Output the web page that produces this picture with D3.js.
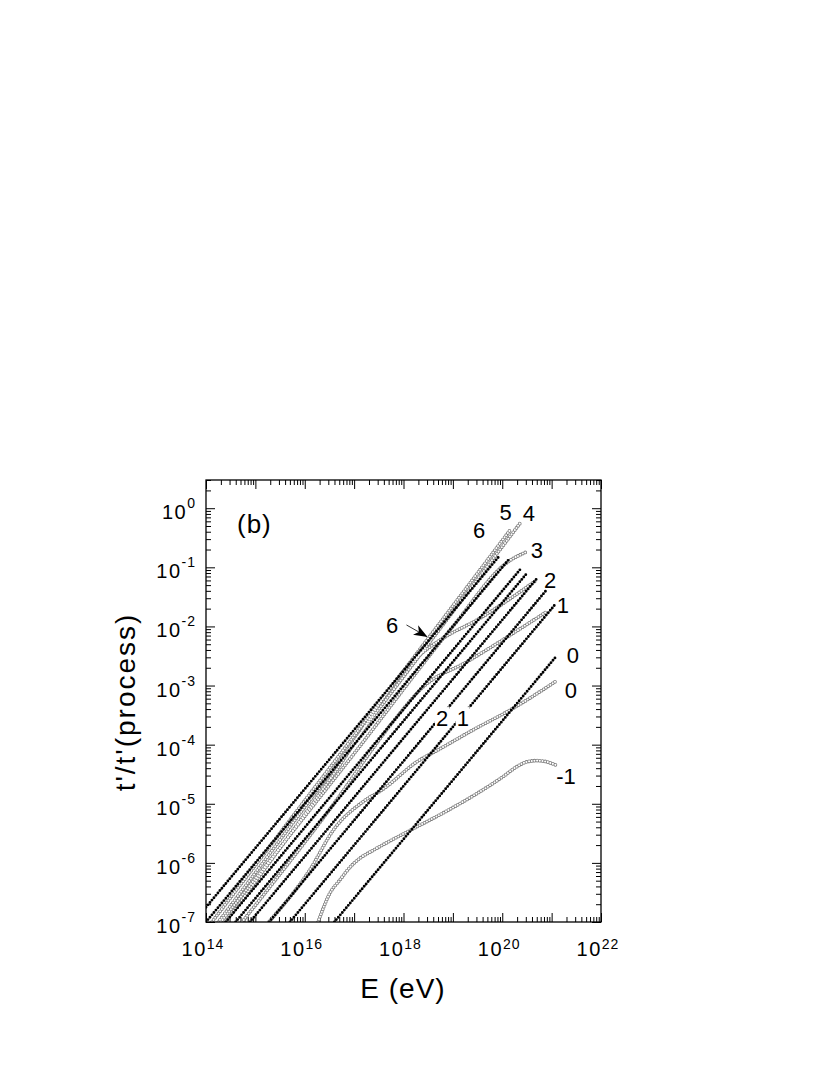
<!DOCTYPE html>
<html>
<head>
<meta charset="utf-8">
<script src="https://cdn.jsdelivr.net/npm/d3@7"></script>
<style>
  body { margin: 0; background: #fff; }
  svg { font-family: "Liberation Sans", Arial, Helvetica, sans-serif; }
</style>
</head>
<body>
<div id="chart"></div>
<script>
// values as [log10(E / eV), log10(t'/t'(process))]
const blackSeries = [
  [[14.00, -6.75], [19.93, -0.82]],
  [[14.00, -7.00], [20.12, -0.88]],
  [[14.40, -7.00], [20.36, -1.04]],
  [[14.60, -7.00], [20.49, -1.11]],
  [[14.89, -7.00], [20.69, -1.20]],
  [[15.28, -7.00], [20.90, -1.38]],
  [[15.70, -7.00], [21.09, -1.61]],
  [[16.60, -7.00], [21.09, -2.51]]
];

const graySeries = [
  [[14.25, -7.00], [17.0, -3.95], [19.0, -1.75], [20.36, -0.255]],
  [[14.12, -7.00], [17.0, -3.85], [19.0, -1.65], [20.16, -0.368]],
  [[14.30, -7.00], [17.0, -4.15], [19.0, -2.0], [20.12, -0.905], [20.50, -0.735]],
  [[14.40, -7.00], [16.5, -4.60], [18.30, -2.50], [18.74, -2.23], [19.55, -1.86], [20.70, -1.214]],
  [[14.73, -7.00], [16.5, -5.10], [17.80, -3.60], [18.40, -3.02], [19.28, -2.60], [20.90, -1.75]],
  [[15.27, -7.00], [16.10, -6.12], [16.60, -5.42], [17.19, -4.96], [17.59, -4.75],
   [18.27, -4.29], [18.74, -4.07], [19.41, -3.75], [20.22, -3.385], [21.10, -2.92]],
  [[16.27, -7.00], [16.51, -6.51], [16.71, -6.29], [16.92, -6.07], [17.12, -5.92],
   [17.38, -5.79], [17.70, -5.64], [18.20, -5.42], [18.88, -5.12], [19.50, -4.82],
   [20.00, -4.55], [20.30, -4.37], [20.50, -4.29], [20.70, -4.27], [20.90, -4.29], [21.10, -4.35]]
];

const xLabelExps = [14, 16, 18, 20, 22];
const yLabelExps = [0, -1, -2, -3, -4, -5, -6, -7];

// curve labels, placed at [log10 E, log10 t]
const curveLabels = [
  { text: "6", at: [19.53, -0.37] },
  { text: "5", at: [20.07, -0.06] },
  { text: "4", at: [20.54, -0.08] },
  { text: "3", at: [20.70, -0.71] },
  { text: "2", at: [20.97, -1.21] },
  { text: "1", at: [21.23, -1.64] },
  { text: "0", at: [21.43, -2.48] },
  { text: "0", at: [21.39, -3.08] },
  { text: "-1", at: [21.29, -4.53] },
  { text: "2", at: [18.78, -3.55], gap: true },
  { text: "1", at: [19.20, -3.55], gap: true },
  { text: "6", at: [17.77, -1.98] }
];
const arrowFrom = [18.06, -1.975];
const arrowTo = [18.47, -2.17];

const width = 830, height = 1075;
const pLeft = 206, pRight = 601, pTop = 480, pBottom = 922;

const x = d3.scaleLog().domain([1e14, 1e22]).range([pLeft, pRight]);
const y = d3.scaleLog().domain([1e-7, 3]).range([pBottom, pTop]);
const px = d => x(Math.pow(10, d[0]));
const py = d => y(Math.pow(10, d[1]));

const svg = d3.select("#chart").append("svg")
  .attr("width", width)
  .attr("height", height);

svg.append("clipPath").attr("id", "plot")
  .append("rect")
  .attr("x", pLeft).attr("y", pTop)
  .attr("width", pRight - pLeft).attr("height", pBottom - pTop);

const line = d3.line().x(px).y(py).curve(d3.curveMonotoneX);

const isMajor = v => Math.abs(Math.log10(v) - Math.round(Math.log10(v))) < 1e-6;
const major = 9, minor = 5;

// axes, all ticks pointing inward
const xt = x.ticks();
const yt = y.ticks().filter(v => v <= 3);

svg.append("g").attr("transform", `translate(0,${pBottom})`)
  .call(d3.axisBottom(x).tickValues(xt).tickFormat("").tickSizeOuter(0))
  .call(g => g.selectAll(".tick line").attr("y2", d => isMajor(d) ? -major : -minor));
svg.append("g").attr("transform", `translate(0,${pTop})`)
  .call(d3.axisTop(x).tickValues(xt).tickFormat("").tickSizeOuter(0))
  .call(g => g.selectAll(".tick line").attr("y2", d => isMajor(d) ? major : minor));
svg.append("g").attr("transform", `translate(${pLeft},0)`)
  .call(d3.axisLeft(y).tickValues(yt).tickFormat("").tickSizeOuter(0))
  .call(g => g.selectAll(".tick line").attr("x2", d => isMajor(d) ? major : minor));
svg.append("g").attr("transform", `translate(${pRight},0)`)
  .call(d3.axisRight(y).tickValues(yt).tickFormat("").tickSizeOuter(0))
  .call(g => g.selectAll(".tick line").attr("x2", d => isMajor(d) ? -major : -minor));
svg.selectAll(".domain").remove();
svg.selectAll(".tick line").attr("stroke", "#000").attr("stroke-width", 1);

// series
const plot = svg.append("g").attr("clip-path", "url(#plot)");

const grays = plot.append("g");
grays.selectAll("path.ring")
  .data(graySeries).join("path")
  .attr("class", "ring")
  .attr("d", line)
  .attr("fill", "none")
  .attr("stroke", "#7a7a7a")
  .attr("stroke-width", 3.7)
  .attr("stroke-linecap", "round")
  .attr("stroke-dasharray", "0 2.7");
grays.selectAll("path.hole")
  .data(graySeries).join("path")
  .attr("class", "hole")
  .attr("d", line)
  .attr("fill", "none")
  .attr("stroke", "#fff")
  .attr("stroke-width", 2.1)
  .attr("stroke-linecap", "round")
  .attr("stroke-dasharray", "0 2.7");

plot.append("g").selectAll("path")
  .data(blackSeries).join("path")
  .attr("d", line)
  .attr("fill", "none")
  .attr("stroke", "#000")
  .attr("stroke-width", 2.9)
  .attr("stroke-linecap", "round")
  .attr("stroke-dasharray", "0 3.1");

svg.append("rect")
  .attr("x", pLeft).attr("y", pTop)
  .attr("width", pRight - pLeft).attr("height", pBottom - pTop)
  .attr("fill", "none").attr("stroke", "#000").attr("stroke-width", 1.3);

// tick labels
const xl = svg.append("g").attr("font-size", 20).attr("text-anchor", "middle")
  .attr("letter-spacing", 1.5);
xLabelExps.forEach(e => {
  const t = xl.append("text").attr("x", x(Math.pow(10, e)) - 3).attr("y", 956);
  t.append("tspan").text("10");
  t.append("tspan").attr("font-size", 14).attr("dy", -7).attr("letter-spacing", 1).text(e);
});
const yl = svg.append("g").attr("font-size", 20).attr("text-anchor", "end")
  .attr("letter-spacing", 1.5);
yLabelExps.forEach(e => {
  const t = yl.append("text").attr("x", 196).attr("y", y(Math.pow(10, e)) + 11);
  t.append("tspan").text("10");
  t.append("tspan").attr("font-size", 14).attr("dy", -11).attr("letter-spacing", 1).text(e);
});

// axis titles
svg.append("text")
  .attr("x", 403).attr("y", 998)
  .attr("text-anchor", "middle")
  .attr("font-size", 28)
  .attr("letter-spacing", 1)
  .text("E (eV)");
svg.append("text")
  .attr("transform", "translate(135,702) rotate(-90)")
  .attr("text-anchor", "middle")
  .attr("font-size", 28)
  .attr("letter-spacing", 2)
  .text("t'/t'(process)");

// panel label
svg.append("text")
  .attr("x", 237).attr("y", 533)
  .attr("font-size", 26)
  .attr("letter-spacing", 1)
  .text("(b)");

// curve labels
const lab = svg.append("g").attr("font-size", 22).attr("text-anchor", "middle");
curveLabels.forEach(l => {
  const cx = px(l.at), cy = py(l.at);
  if (l.gap) {
    lab.append("rect")
      .attr("x", cx - 7).attr("y", cy - 11)
      .attr("width", 14).attr("height", 22)
      .attr("fill", "#fff");
  }
  lab.append("text")
    .attr("x", cx).attr("y", cy)
    .attr("dy", "0.36em")
    .text(l.text);
});

// arrow
svg.append("defs").append("marker")
  .attr("id", "head")
  .attr("viewBox", "0 0 14 11")
  .attr("refX", 13).attr("refY", 5.5)
  .attr("markerWidth", 14).attr("markerHeight", 11)
  .attr("markerUnits", "userSpaceOnUse")
  .attr("orient", "auto")
  .append("path")
  .attr("d", "M0,0 L14,5.5 L0,11 L4,5.5 Z")
  .attr("fill", "#000");
svg.append("line")
  .attr("x1", px(arrowFrom)).attr("y1", py(arrowFrom))
  .attr("x2", px(arrowTo)).attr("y2", py(arrowTo))
  .attr("stroke", "#000").attr("stroke-width", 0.8)
  .attr("marker-end", "url(#head)");
</script>
</body>
</html>
